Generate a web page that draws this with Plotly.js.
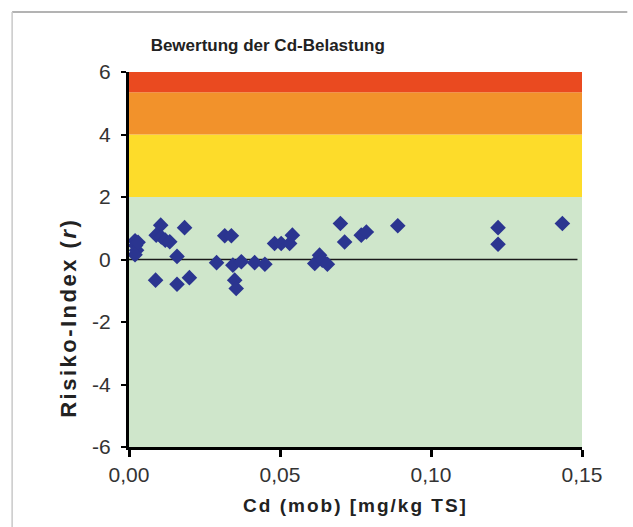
<!DOCTYPE html>
<html>
<head>
<meta charset="utf-8">
<script src="https://cdn.plot.ly/plotly-3.0.1.min.js"></script>
<style>
  html, body { margin: 0; padding: 0; background: #ffffff; }
  #chart { width: 633px; height: 527px; }
  #chart .xtitle { letter-spacing: 2px; }
  #chart .annotation-text { letter-spacing: 2.5px; }
</style>
</head>
<body>
<div id="chart"></div>
<script>
// Data
const cdMob = [0.0020, 0.0022, 0.0025, 0.0020, 0.0030,
  0.0088, 0.0105, 0.0090, 0.0107, 0.0120, 0.0135, 0.0159, 0.0159, 0.0184, 0.0200,
  0.0290, 0.0317, 0.0339, 0.0344, 0.0350, 0.0355, 0.0372, 0.0416, 0.0450,
  0.0482, 0.0504, 0.0532, 0.0541, 0.0615, 0.0631, 0.0640, 0.0657,
  0.0700, 0.0714, 0.0769, 0.0786, 0.0890, 0.1222, 0.1222, 0.1435];
const risikoIndex = [0.60, 0.45, 0.30, 0.15, 0.55,
  -0.66, 1.10, 0.78, 0.72, 0.62, 0.57, 0.10, -0.79, 1.02, -0.58,
  -0.10, 0.76, 0.76, -0.18, -0.66, -0.93, -0.07, -0.10, -0.15,
  0.51, 0.51, 0.51, 0.78, -0.13, 0.14, -0.02, -0.15,
  1.15, 0.56, 0.78, 0.88, 1.08, 1.02, 0.49, 1.15];

// Risk bands (y ranges)
const bandLower = [-6, 2, 4, 5.35];
const bandUpper = [2, 4, 5.35, 6];
const bandColors = ['#cfe6cb', '#fddc2a', '#f2922b', '#ea4a20'];

const xTicks = [0, 0.05, 0.10, 0.15];
const xTickText = ['0,00', '0,05', '0,10', '0,15'];
const yTicks = [-6, -4, -2, 0, 2, 4, 6];
const yTickText = ['-6', '-4', '-2', '0', '2', '4', '6'];

const shapes = bandLower.map((lo, i) => ({
  type: 'rect', xref: 'paper', yref: 'y', x0: 0, x1: 1, y0: lo, y1: bandUpper[i],
  fillcolor: bandColors[i], line: {width: 0}, layer: 'below'
}));
// zero line
shapes.push({type: 'line', xref: 'paper', yref: 'y', x0: 0, x1: 0.99, y0: 0, y1: 0,
  line: {color: '#1a1a1a', width: 1.6}, layer: 'below'});
// outer frame (top and left gray border)
shapes.push({type: 'line', xref: 'paper', yref: 'paper', x0: -0.258, x1: 1.10, y0: 1.16, y1: 1.16,
  line: {color: '#9a9a9a', width: 1.5}});
shapes.push({type: 'line', xref: 'paper', yref: 'paper', x0: -0.258, x1: -0.258, y0: 1.16, y1: -0.25,
  line: {color: '#c8c8c8', width: 1.5}});

const trace = {
  x: cdMob, y: risikoIndex, type: 'scatter', mode: 'markers',
  marker: {symbol: 'diamond', size: 12, color: '#2b3590'},
  hoverinfo: 'x+y'
};

const fontFam = 'Liberation Sans, Arial, sans-serif';
const layout = {
  width: 633, height: 527,
  margin: {l: 129, r: 51, t: 72, b: 80},
  paper_bgcolor: '#ffffff', plot_bgcolor: 'rgba(0,0,0,0)',
  showlegend: false,
  font: {family: fontFam, color: '#222222', size: 19},
  title: {text: '<b>Bewertung der Cd-Belastung</b>', x: 0.423, xref: 'container', xanchor: 'center',
    y: 0.914, yref: 'container', yanchor: 'middle', font: {size: 17, family: fontFam, color: '#222'}},
  xaxis: {
    range: [0, 0.15], tickvals: xTicks, ticktext: xTickText,
    showgrid: false, zeroline: false,
    showline: true, linecolor: '#000', linewidth: 3,
    ticks: 'outside', ticklen: 7, tickwidth: 3, tickcolor: '#000',
    tickfont: {size: 21, color: '#333'},
    title: {text: '<b>Cd (mob) [mg/kg TS]</b>', font: {size: 19, color: '#222'}, standoff: 14}
  },
  yaxis: {
    range: [-6, 6], tickvals: yTicks, ticktext: yTickText,
    showgrid: false, zeroline: false,
    showline: true, linecolor: '#000', linewidth: 3,
    ticks: 'outside', ticklen: 5, tickwidth: 2, tickcolor: '#000',
    ticklabelstandoff: 6,
    tickfont: {size: 21, color: '#333'}
  },
  annotations: [{
    text: '<b>Risiko-Index (<i>r</i>)</b>', textangle: -90, showarrow: false,
    xref: 'paper', yref: 'paper', x: -0.135, y: 0.344, xanchor: 'center', yanchor: 'middle',
    font: {size: 22, color: '#222', family: fontFam}
  }],
  shapes: shapes
};

Plotly.newPlot('chart', [trace], layout, {displayModeBar: false, staticPlot: true});
</script>
</body>
</html>
